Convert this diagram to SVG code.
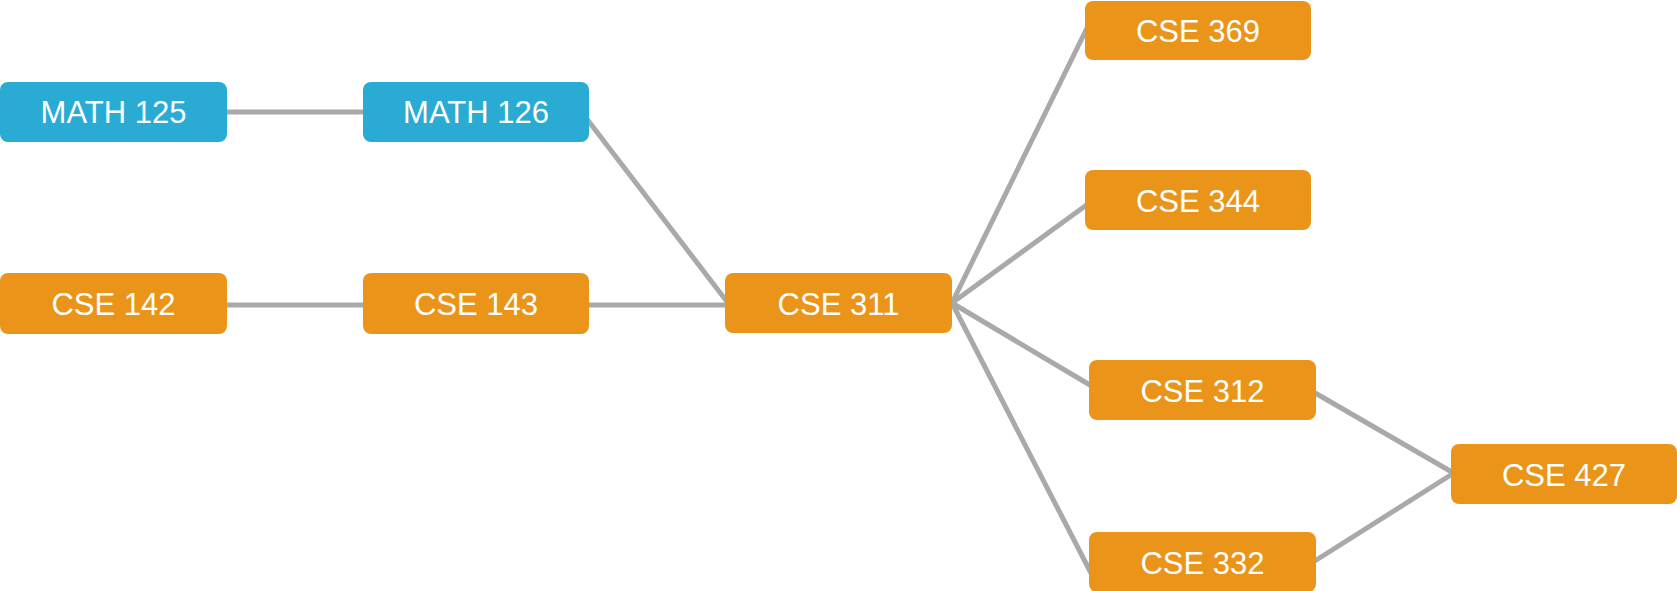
<svg xmlns="http://www.w3.org/2000/svg" width="1677" height="591" viewBox="0 0 1677 591">
  <style>
    .edge { stroke: #a9a9a9; stroke-width: 5; fill: none; stroke-linecap: butt; }
    .math rect { fill: #2aabd3; }
    .cse rect { fill: #ea951a; }
    .node text { fill: #ffffff; font-family: "Liberation Sans", Arial, sans-serif; font-size: 31px; text-anchor: middle; }
  </style>
  <rect width="1677" height="591" fill="#ffffff"/>

  <!-- prerequisite links -->
  <g id="connectors">
    <line class="edge" x1="220" y1="112" x2="370" y2="112"/>
    <line class="edge" x1="220" y1="305" x2="370" y2="305"/>
    <line class="edge" x1="580" y1="305" x2="735" y2="305"/>
    <line class="edge" x1="580" y1="110" x2="728" y2="303"/>
    <line class="edge" x1="952" y1="303" x2="1090" y2="22"/>
    <line class="edge" x1="952" y1="303" x2="1092" y2="201"/>
    <line class="edge" x1="952" y1="303" x2="1095" y2="388"/>
    <line class="edge" x1="952" y1="303" x2="1092" y2="575"/>
    <line class="edge" x1="1310" y1="390" x2="1457" y2="475"/>
    <line class="edge" x1="1310" y1="564" x2="1457" y2="471"/>
  </g>

  <g id="math125" class="node math">
    <rect x="0" y="82" width="227" height="60" rx="8"/>
    <text x="113.5" y="123">MATH 125</text>
  </g>
  <g id="math126" class="node math">
    <rect x="363" y="82" width="226" height="60" rx="8"/>
    <text x="476" y="123">MATH 126</text>
  </g>
  <g id="cse142" class="node cse">
    <rect x="0" y="273" width="227" height="61" rx="8"/>
    <text x="113.5" y="315">CSE 142</text>
  </g>
  <g id="cse143" class="node cse">
    <rect x="363" y="273" width="226" height="61" rx="8"/>
    <text x="476" y="315">CSE 143</text>
  </g>
  <g id="cse311" class="node cse">
    <rect x="725" y="273" width="227" height="60" rx="8"/>
    <text x="838.5" y="315">CSE 311</text>
  </g>
  <g id="cse369" class="node cse">
    <rect x="1085" y="1" width="226" height="59" rx="8"/>
    <text x="1198" y="42">CSE 369</text>
  </g>
  <g id="cse344" class="node cse">
    <rect x="1085" y="170" width="226" height="60" rx="8"/>
    <text x="1198" y="212">CSE 344</text>
  </g>
  <g id="cse312" class="node cse">
    <rect x="1089" y="360" width="227" height="60" rx="8"/>
    <text x="1202.5" y="402">CSE 312</text>
  </g>
  <g id="cse332" class="node cse">
    <rect x="1089" y="532" width="227" height="60" rx="8"/>
    <text x="1202.5" y="574">CSE 332</text>
  </g>
  <g id="cse427" class="node cse">
    <rect x="1451" y="444" width="226" height="60" rx="8"/>
    <text x="1564" y="486">CSE 427</text>
  </g>
</svg>
